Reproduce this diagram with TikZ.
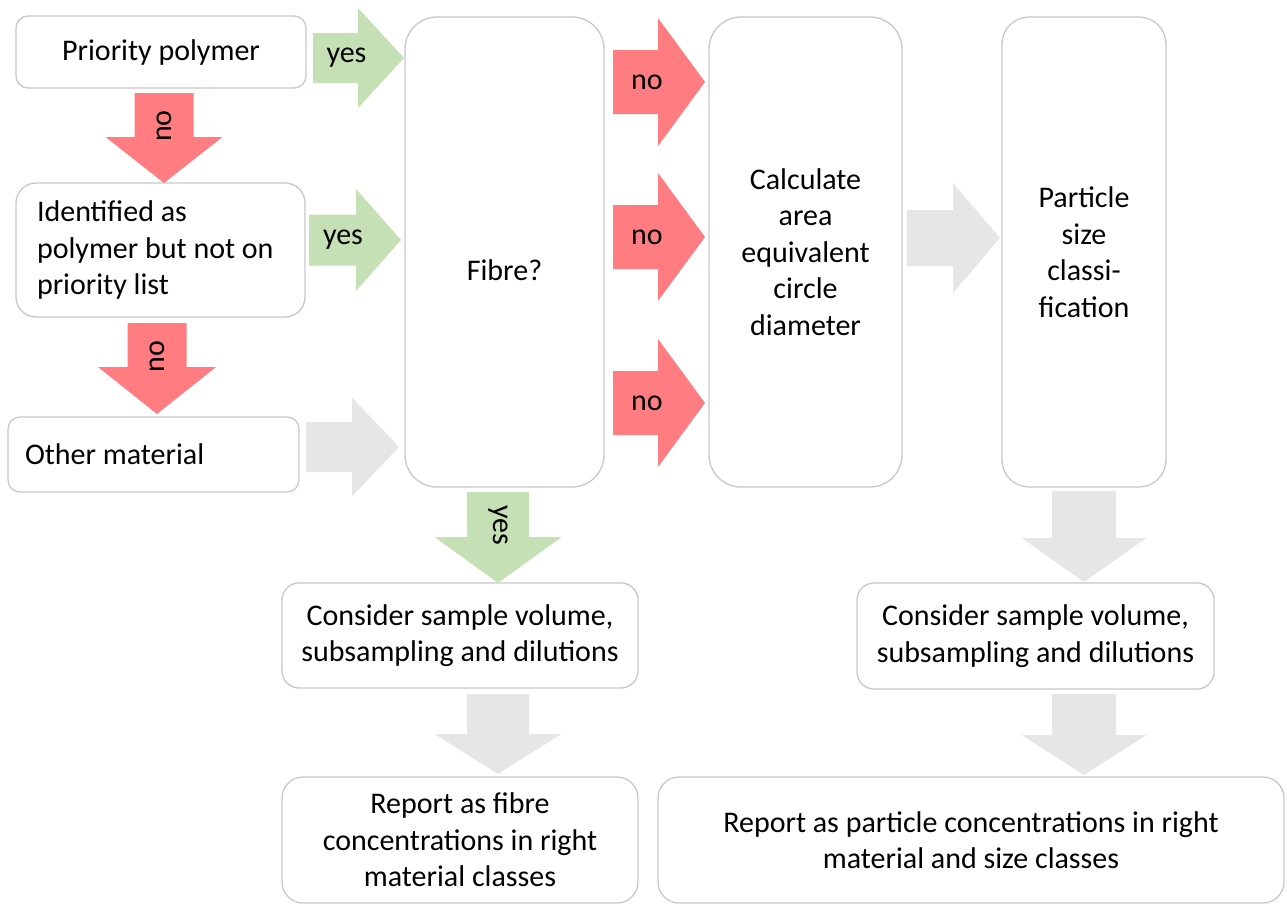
\documentclass[tikz,border=0pt]{standalone}
\usepackage{fontspec}
\setmainfont{Carlito}
\usetikzlibrary{positioning,calc}
\definecolor{yesgreen}{HTML}{C5E0B4}
\definecolor{nored}{HTML}{FF7C80}
\definecolor{flowgray}{HTML}{E6E6E6}
\definecolor{boxline}{HTML}{C8C8C8}

\begin{document}
\begin{tikzpicture}[
  x=1pt, y=-1pt,
  every node/.style={font=\fontsize{30}{36.5}\selectfont},
  box/.style={draw=boxline, line width=1.3pt, fill=white, rounded corners=12pt, align=center, inner sep=0pt},
  leftbox/.style={box, align=flush left, text width=#1},
  tallbox/.style={box, minimum height=470pt},
  % block arrow, tip at the origin, pointing along +x: length, half shaft, half head, head length, text
  pics/blockarrow/.style n args={5}{code={
    \fill[pic actions] (0,0) -- (-#4,#3) -- (-#4,#2) -- (-#1,#2) -- (-#1,-#2) -- (-#4,-#2) -- (-#4,-#3) -- cycle;
    \node[transform shape, inner sep=0pt] (-txt) at ({-#1/2-12},0) {#5};
  }},
  yesarrow/.style={fill=yesgreen},
  noarrow/.style={fill=nored},
  grayarrow/.style={fill=flowgray},
  down/.style={rotate=-90}
]
  \useasboundingbox (0,0) rectangle (1287,905);

  % left column
  \node[box, minimum width=290pt, minimum height=72pt] (prio) at (161,52) {Priority polymer};
  \node[leftbox=247pt, minimum width=289pt, minimum height=134pt, rounded corners=20pt] (ident) at (160.5,250)
    {Identified as\\polymer but not on\\priority list};
  \node[leftbox=257pt, minimum width=291pt, minimum height=75pt] (other) at (153.5,454.5) {Other material};

  % tall columns
  \node[tallbox, minimum width=199pt, rounded corners=32pt,
    label={[yshift=-18pt]center:Fibre?}] (fibre) at (504.5,252) {};
  \node[tallbox, minimum width=193pt, rounded corners=32pt] (calc) at (805.5,252)
    {Calculate\\area\\equivalent\\circle\\diameter};
  \node[tallbox, minimum width=164pt, rounded corners=27pt] (psize) at (1084,252)
    {Particle\\size\\classi-\\fication};

  % bottom boxes
  \node[box, minimum width=356pt, minimum height=105pt, rounded corners=17pt] (considerL) at (460,635.5)
    {Consider sample volume,\\subsampling and dilutions};
  \node[box, minimum width=357pt, minimum height=106pt, rounded corners=17pt] (considerR) at (1035.5,636)
    {Consider sample volume,\\subsampling and dilutions};
  \node[box, minimum width=356pt, minimum height=126pt, rounded corners=21pt] (reportL) at (460,840)
    {Report as fibre\\concentrations in right\\material classes};
  \node[box, minimum width=626pt, minimum height=126pt, rounded corners=21pt] (reportR) at (971,840)
    {Report as particle concentrations in right\\material and size classes};

  % arrows into Fibre?
  \pic[yesarrow] (yes1) at (404,58) {blockarrow={91}{25}{50}{46}{yes}};
  \pic[yesarrow] (yes2) at (401,240) {blockarrow={92}{25.5}{51}{45}{yes}};
  \pic[grayarrow] (otherFibre) at (399,447) {blockarrow={93}{25}{49.5}{47}{}};

  \pic[noarrow, down] (no1) at (164,183) {blockarrow={90}{29.5}{58.5}{46}{\rotatebox{180}{no}}};
  \pic[noarrow, down] (no2) at (157,414) {blockarrow={91}{29.5}{59}{47}{\rotatebox{180}{no}}};

  % Fibre? -> Calculate
  \foreach \y [count=\i] in {82,237,403}
    \pic[noarrow] (noCalc\i) at (705,\y) {blockarrow={92}{32}{64}{47}{no}};

  \pic[grayarrow] (calcSize) at (1000,238) {blockarrow={93}{28}{55}{47}{}};

  % downward flow
  \pic[yesarrow, down] (yes3) at (498,583) {blockarrow={91}{31}{63.5}{46}{yes}};
  \pic[grayarrow, down] (considerReportL) at (498,774) {blockarrow={80}{31}{63.5}{40}{}};
  \pic[grayarrow, down] (sizeConsider) at (1084,582) {blockarrow={91}{32}{62.5}{44}{}};
  \pic[grayarrow, down] (considerReportR) at (1084,775) {blockarrow={81}{32}{62.5}{40}{}};
\end{tikzpicture}
\end{document}
